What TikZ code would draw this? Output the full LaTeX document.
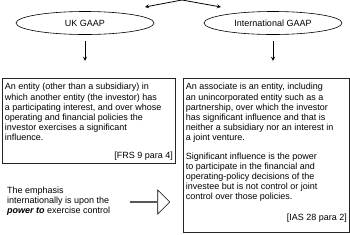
\documentclass[tikz,border=0pt]{standalone}
\usepackage{fontspec}
\setmainfont{Liberation Sans}
\usetikzlibrary{shapes.geometric, shapes.arrows, positioning}

\begin{document}
\begin{tikzpicture}[>=stealth, x=1pt, y=-1pt, font=\fontsize{9}{10.1}\selectfont,
    gaap/.style={draw, ellipse, line width=0.6pt, minimum width=138pt, minimum height=23pt, inner sep=0pt},
    defbox/.style={draw, line width=0.8pt, black!85, text=black, anchor=north west, inner xsep=2.5pt, inner ysep=5pt},
    link/.style={->, line width=0.8pt}]

    % =================================================================
    % 1. FRAME OF THE PICTURE
    % =================================================================
    \useasboundingbox (0,0) rectangle (350,234);

    % =================================================================
    % 2. THE TWO SETS OF STANDARDS
    % =================================================================
    \node[gaap] (uk) at (85,23) {UK GAAP};
    \node[gaap] (ias) at (273,23) {International GAAP};

    % Split arrows at the top
    \coordinate (apex) at (182,0);
    \coordinate (apexL) at (145,7);
    \coordinate (apexR) at (221,7);
    \draw[link] (apex) -- (apexL);
    \draw[link] (apex) -- (apexR);

    % Arrows down to the definitions
    \coordinate (ukTop) at ([yshift=-6pt]uk.south);
    \coordinate (ukEnd) at ([yshift=-26pt]uk.south);
    \coordinate (iasTop) at ([yshift=-6pt]ias.south);
    \coordinate (iasEnd) at ([yshift=-26pt]ias.south);
    \draw[link] (ukTop) -- (ukEnd);
    \draw[link] (iasTop) -- (iasEnd);

    % =================================================================
    % 3. THE DEFINITIONS
    % =================================================================
    \node[defbox, minimum width=173pt] (ukdef) at (2,78) {\parbox[t][75pt][t]{168pt}{%
        An entity (other than a subsidiary) in\\
        which another entity (the investor) has\\
        a participating interest, and over whose\\
        operating and financial policies the\\
        investor exercises a significant\\
        influence.\par\vspace{8pt}
        {\raggedleft [FRS 9 para 4]\par}}};

    \node[defbox, minimum width=166pt] (iasdef) at (183,78) {\parbox[t][144pt][t]{161pt}{%
        An associate is an entity, including\\
        an unincorporated entity such as a\\
        partnership, over which the investor\\
        has significant influence and that is\\
        neither a subsidiary nor an interest in\\
        a joint venture.\par\vspace{9pt}
        Significant influence is the power\\
        to participate in the financial and\\
        operating-policy decisions of the\\
        investee but is not control or joint\\
        control over those policies.\par\vspace{10pt}
        {\raggedleft [IAS 28 para 2]\par}}};

    % =================================================================
    % 4. NOTE AND HOLLOW ARROW
    % =================================================================
    \node[anchor=west, align=left, inner sep=0pt] (note) at (7,201)
        {The emphasis\\ internationally is upon the\\ \textbf{\textit{power to}} exercise control};
    \node[single arrow, draw, line width=0.6pt, minimum width=24pt, minimum height=39pt,
          single arrow head extend=6pt, inner sep=0pt] (hint) at (150,202) {};

\end{tikzpicture}
\end{document}
